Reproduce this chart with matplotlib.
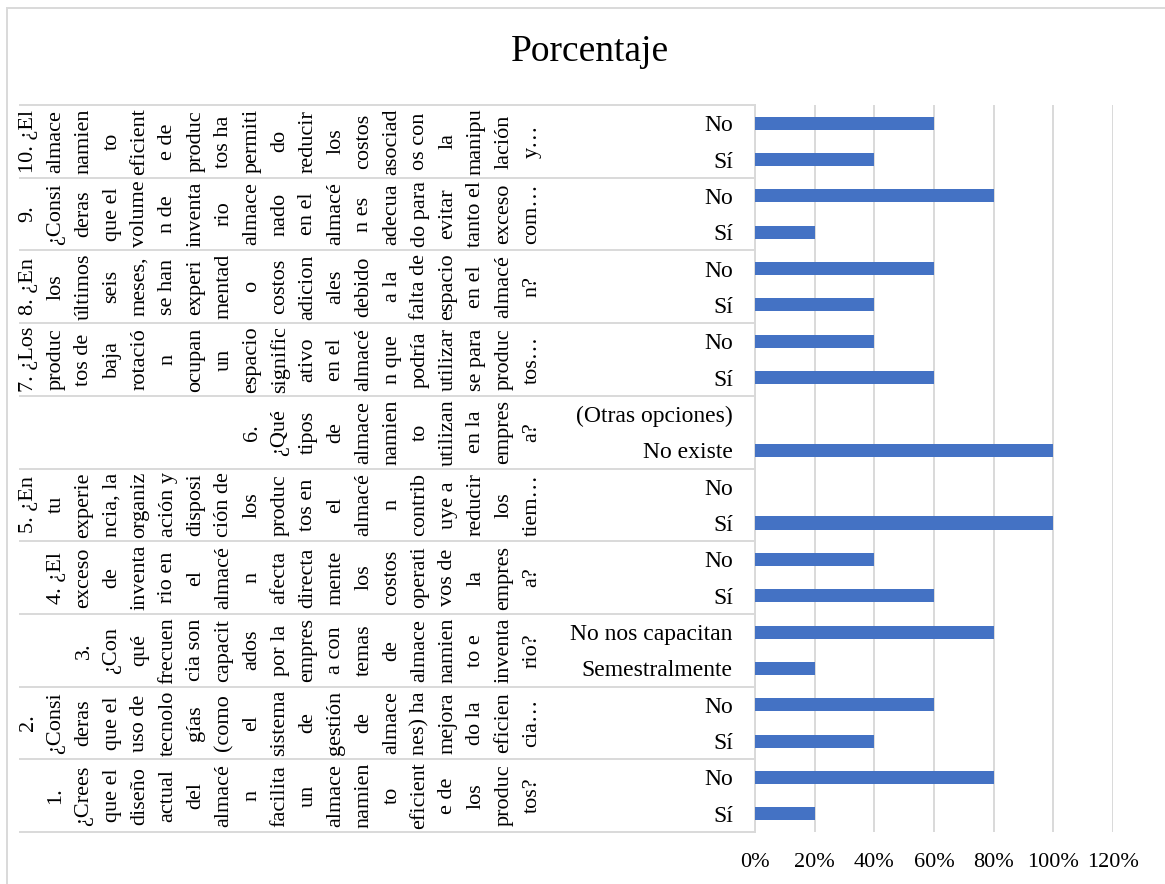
import matplotlib.pyplot as plt
from matplotlib.patches import Rectangle
from matplotlib.ticker import PercentFormatter
from matplotlib.transforms import blended_transform_factory

plt.rcParams['font.family'] = ['Liberation Serif', 'DejaVu Serif']

# preguntas (ya cortadas en líneas como en el gráfico), de abajo hacia arriba
preguntas = [
    ["1.", "¿Crees", "que el", "diseño", "actual", "del", "almacé", "n", "facilita",
     "un", "almace", "namien", "to", "eficient", "e de", "los", "produc", "tos?"],
    ["2.", "¿Consi", "deras", "que el", "uso de", "tecnolo", "gías", "(como", "el",
     "sistema", "de", "gestión", "de", "almace", "nes) ha", "mejora", "do la",
     "eficien", "cia…"],
    ["3.", "¿Con", "qué", "frecuen", "cia son", "capacit", "ados", "por la", "empres",
     "a con", "temas", "de", "almace", "namien", "to e", "inventa", "rio?"],
    ["4. ¿El", "exceso", "de", "inventa", "rio en", "el", "almacé", "n", "afecta",
     "directa", "mente", "los", "costos", "operati", "vos de", "la", "empres", "a?"],
    ["5. ¿En", "tu", "experie", "ncia, la", "organiz", "ación y", "disposi", "ción de",
     "los", "produc", "tos en", "el", "almacé", "n", "contrib", "uye a", "reducir",
     "los", "tiem…"],
    ["6.", "¿Qué", "tipos", "de", "almace", "namien", "to", "utilizan", "en la",
     "empres", "a?"],
    ["7. ¿Los", "produc", "tos de", "baja", "rotació", "n", "ocupan", "un", "espacio",
     "signific", "ativo", "en el", "almacé", "n que", "podría", "utilizar", "se para",
     "produc", "tos…"],
    ["8. ¿En", "los", "últimos", "seis", "meses,", "se han", "experi", "mentad", "o",
     "costos", "adicion", "ales", "debido", "a la", "falta de", "espacio", "en el",
     "almacé", "n?"],
    ["9.", "¿Consi", "deras", "que el", "volume", "n de", "inventa", "rio", "almace",
     "nado", "en el", "almacé", "n es", "adecua", "do para", "evitar", "tanto el",
     "exceso", "com…"],
    ["10. ¿El", "almace", "namien", "to", "eficient", "e de", "produc", "tos ha",
     "permiti", "do", "reducir", "los", "costos", "asociad", "os con", "la", "manipu",
     "lación", "y…"],
]

respuestas = [
    ["Sí", "No"], ["Sí", "No"], ["Semestralmente", "No nos capacitan"], ["Sí", "No"],
    ["Sí", "No"], ["No existe", "(Otras opciones)"], ["Sí", "No"], ["Sí", "No"],
    ["Sí", "No"], ["Sí", "No"],
]

porcentajes = [
    [20, 80], [40, 60], [20, 80], [60, 40], [100, 0],
    [100, 0], [60, 40], [40, 60], [20, 80], [40, 60],
]

etiquetas = [r for grupo in respuestas for r in grupo]
valores = [v for grupo in porcentajes for v in grupo]

W, H = 1165, 884
fig = plt.figure(figsize=(W / 100, H / 100), dpi=100)

# area de trazado en pixeles
x0, x1 = 755, 1113
y0, y1 = 105, 832
ax = fig.add_axes([x0 / W, 1 - y1 / H, (x1 - x0) / W, (y1 - y0) / H])

gris = '#d9d9d9'
pos = list(range(len(etiquetas)))
ax.barh(pos, valores, height=0.36, color='#4472C4', zorder=3)

ax.set_xlim(0, 120)
ax.set_ylim(-0.5, len(etiquetas) - 0.5)
ax.set_xticks(range(0, 121, 20))
ax.xaxis.set_major_formatter(PercentFormatter(decimals=0))
ax.set_yticks(pos)
ax.set_yticklabels(etiquetas, fontsize=17)
ax.tick_params(axis='y', length=0, pad=16)
ax.tick_params(axis='x', length=0, pad=15, labelsize=16)
ax.grid(axis='x', color=gris, lw=1.4, zorder=0)
for s in ['top', 'right', 'bottom']:
    ax.spines[s].set_visible(False)
ax.spines['left'].set_color(gris)
ax.spines['left'].set_linewidth(1.4)

# separadores y etiquetas de preguntas (eje de categorias de dos niveles)
tr = blended_transform_factory(ax.transAxes, ax.transData)
izq = (20 - x0) / (x1 - x0)
for g in range(len(preguntas) + 1):
    yb = 2 * g - 0.5
    ax.plot([izq, 0], [yb, yb], color=gris, lw=1.4, transform=tr, clip_on=False)

x_der, dx = 532, 28
for g, lineas in enumerate(preguntas):
    n = len(lineas)
    for i, t in enumerate(lineas):
        px = x_der - (n - 1 - i) * dx
        ax.text((px - x0) / (x1 - x0), 2 * g + 0.5, t, rotation=90,
                ha='center', va='center', fontsize=16, transform=tr, clip_on=False)

fig.text(590 / W, 1 - 52 / H, 'Porcentaje', ha='center', va='center', fontsize=27)

fig.add_artist(Rectangle((7 / W, -0.05), 1.1, 1 - 8 / H + 0.05, transform=fig.transFigure,
                         fill=False, ec=gris, lw=1.4))

fig.savefig('out.png', dpi=100)
